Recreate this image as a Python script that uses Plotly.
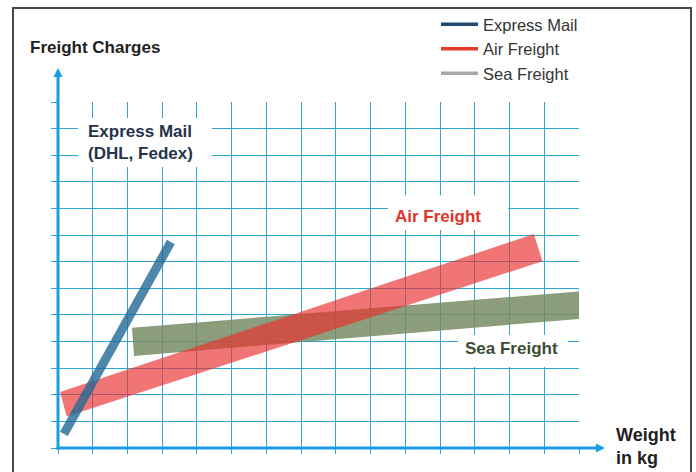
import plotly.graph_objects as go

# ---- data (grid units: x = weight, y = freight charge) ----
series_names = ["Express Mail", "Air Freight", "Sea Freight"]
legend_colors = ["#1f4b72", "#e33b2c", "#a8a8a8"]

express_x = [0.17, 3.25]
express_y = [0.53, 7.74]

air_x = [0.06, 13.70, 13.95, 0.25]
air_y = [2.10, 8.04, 7.02, 1.18]

sea_x = [2.13, 15.0, 15.0, 2.19]
sea_y = [4.52, 5.88, 4.85, 3.46]

x_ticks = list(range(0, 16))
y_ticks = list(range(0, 14))

FONT = "Arial, Liberation Sans, sans-serif"
GRID = "#30a6d6"
AXIS = "#1a9de0"

fig = go.Figure()

fig.add_trace(go.Scatter(x=sea_x, y=sea_y, fill="toself", mode="lines",
                         line=dict(width=0), fillcolor="rgba(120,140,100,0.85)",
                         showlegend=False, hoverinfo="skip"))
fig.add_trace(go.Scatter(x=air_x, y=air_y, fill="toself", mode="lines",
                         line=dict(width=0), fillcolor="rgba(235,45,45,0.66)",
                         showlegend=False, hoverinfo="skip"))
fig.add_trace(go.Scatter(x=express_x, y=express_y, mode="lines",
                         line=dict(width=9, color="rgba(35,105,150,0.80)"),
                         showlegend=False, hoverinfo="skip"))

for name, col in zip(series_names, legend_colors):
    fig.add_trace(go.Scatter(x=[None], y=[None], mode="lines", name=name,
                             line=dict(width=3.5, color=col)))

# white boxes behind the in-chart labels (break the grid lines)
boxes = [(0.576, 4.434, 10.56, 12.40), (9.50, 12.96, 8.19, 9.50), (11.52, 14.68, 3.04, 4.25)]
shapes = []
for x0, x1, y0, y1 in boxes:
    shapes.append(dict(type="rect", xref="x", yref="y", x0=x0, x1=x1, y0=y0, y1=y1,
                       fillcolor="white", line=dict(width=0), layer="above"))

PW, PH = 521.0, 346.0
# axis lines with arrowheads (paper coords)
ytip = (448 - 68) / PH
xtip = (605 - 58) / PW
ah_w, ah_h = 4.5, 9
shapes += [
    dict(type="line", xref="paper", yref="paper", x0=0, x1=0, y0=-1.5 / PH, y1=ytip - ah_h / PH,
         line=dict(color=AXIS, width=3), layer="above"),
    dict(type="line", xref="paper", yref="paper", x0=-1.5 / PW, x1=xtip - ah_h / PW, y0=0, y1=0,
         line=dict(color=AXIS, width=3), layer="above"),
    dict(type="path", xref="paper", yref="paper",
         path=f"M {-ah_w/PW} {ytip-ah_h/PH} L {ah_w/PW} {ytip-ah_h/PH} L 0 {ytip} Z",
         fillcolor=AXIS, line=dict(width=0), layer="above"),
    dict(type="path", xref="paper", yref="paper",
         path=f"M {xtip-ah_h/PW} {-ah_w/PH} L {xtip-ah_h/PW} {ah_w/PH} L {xtip} 0 Z",
         fillcolor=AXIS, line=dict(width=0), layer="above"),
    # outer frame
    dict(type="rect", xref="paper", yref="paper", x0=(13 - 58) / PW, x1=(691 - 58) / PW,
         y0=-0.3, y1=(448 - 8) / PH, line=dict(color="#4a4a4a", width=2), layer="above"),
]

annotations = [
    dict(text="<b>Express Mail<br>(DHL, Fedex)</b>", x=0.806, y=11.48, xref="x", yref="y",
         xanchor="left", yanchor="middle", align="left", showarrow=False,
         font=dict(family=FONT, size=17, color="#25324a")),
    dict(text="<b>Air Freight</b>", x=10.94, y=8.68, xref="x", yref="y",
         xanchor="center", yanchor="middle", showarrow=False,
         font=dict(family=FONT, size=17, color="#e0342a")),
    dict(text="<b>Sea Freight</b>", x=13.07, y=3.72, xref="x", yref="y",
         xanchor="center", yanchor="middle", showarrow=False,
         font=dict(family=FONT, size=17, color="#3b4d33")),
    dict(text="<b>Freight Charges</b>", x=(28 - 58) / PW, y=(448 - 48) / PH, xref="paper", yref="paper",
         xanchor="left", yanchor="middle", showarrow=False,
         font=dict(family=FONT, size=17, color="#222222")),
    dict(text="<b>Weight<br>in kg</b>", x=(614 - 58) / PW, y=(448 - 446.5) / PH, xref="paper", yref="paper",
         xanchor="left", yanchor="middle", align="left", showarrow=False,
         font=dict(family=FONT, size=18, color="#222222")),
]

fig.update_layout(
    width=696, height=472,
    margin=dict(l=58, r=117, t=102, b=24, autoexpand=False),
    paper_bgcolor="white", plot_bgcolor="white",
    shapes=shapes, annotations=annotations,
    showlegend=True,
    legend=dict(x=(436 - 58) / PW, y=(448 - 7) / PH, xanchor="left", yanchor="top",
                font=dict(family=FONT, size=16.5, color="#333333"),
                bgcolor="rgba(0,0,0,0)", itemwidth=37, tracegroupgap=0),
    xaxis=dict(range=[0, 15], tickvals=x_ticks, showticklabels=False, showgrid=True,
               gridcolor=GRID, gridwidth=1.3, zeroline=False, showline=False,
               ticks="outside", ticklen=5, tickwidth=1.3, tickcolor=GRID, fixedrange=True),
    yaxis=dict(range=[0, 13], tickvals=y_ticks, showticklabels=False, showgrid=True,
               gridcolor=GRID, gridwidth=1.3, zeroline=False, showline=False,
               ticks="outside", ticklen=6, tickwidth=1.3, tickcolor=GRID, fixedrange=True),
)

fig.write_html("out.html")
